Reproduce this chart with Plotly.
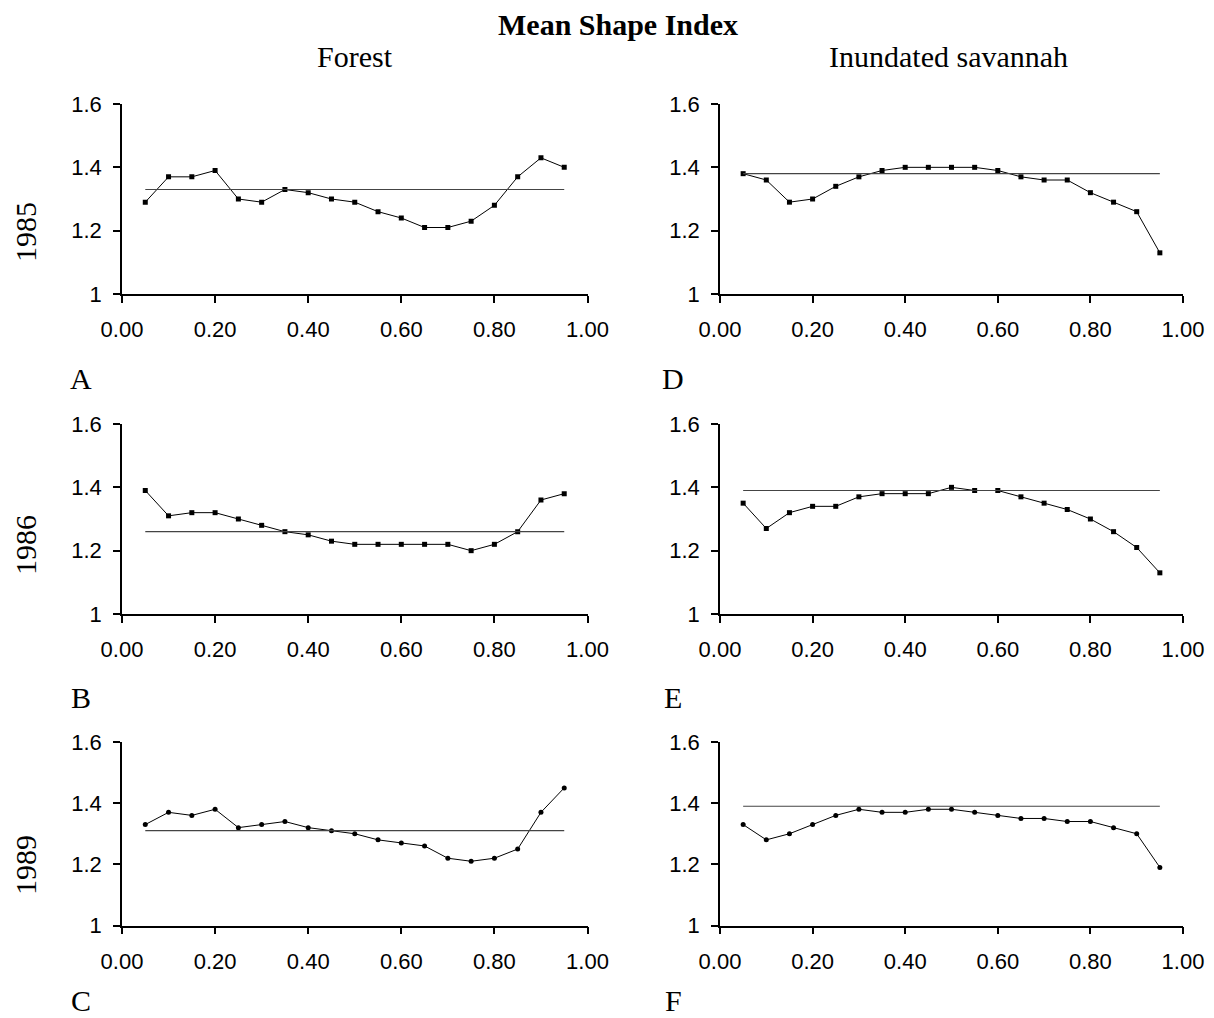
import plotly.graph_objects as go

x_vals = [0.05, 0.10, 0.15, 0.20, 0.25, 0.30, 0.35, 0.40, 0.45, 0.50,
          0.55, 0.60, 0.65, 0.70, 0.75, 0.80, 0.85, 0.90, 0.95]

forest_1985 = [1.29, 1.37, 1.37, 1.39, 1.30, 1.29, 1.33, 1.32, 1.30, 1.29,
               1.26, 1.24, 1.21, 1.21, 1.23, 1.28, 1.37, 1.43, 1.40]
forest_1986 = [1.39, 1.31, 1.32, 1.32, 1.30, 1.28, 1.26, 1.25, 1.23, 1.22,
               1.22, 1.22, 1.22, 1.22, 1.20, 1.22, 1.26, 1.36, 1.38]
forest_1989 = [1.33, 1.37, 1.36, 1.38, 1.32, 1.33, 1.34, 1.32, 1.31, 1.30,
               1.28, 1.27, 1.26, 1.22, 1.21, 1.22, 1.25, 1.37, 1.45]
sav_1985 = [1.38, 1.36, 1.29, 1.30, 1.34, 1.37, 1.39, 1.40, 1.40, 1.40,
            1.40, 1.39, 1.37, 1.36, 1.36, 1.32, 1.29, 1.26, 1.13]
sav_1986 = [1.35, 1.27, 1.32, 1.34, 1.34, 1.37, 1.38, 1.38, 1.38, 1.40,
            1.39, 1.39, 1.37, 1.35, 1.33, 1.30, 1.26, 1.21, 1.13]
sav_1989 = [1.33, 1.28, 1.30, 1.33, 1.36, 1.38, 1.37, 1.37, 1.38, 1.38,
            1.37, 1.36, 1.35, 1.35, 1.34, 1.34, 1.32, 1.30, 1.19]

mean_forest = [1.33, 1.26, 1.31]
mean_sav = [1.38, 1.39, 1.39]

years = ["1985", "1986", "1989"]
columns = ["Forest", "Inundated savannah"]
letters = [["A", "D"], ["B", "E"], ["C", "F"]]

x_ticks = [0.0, 0.2, 0.4, 0.6, 0.8, 1.0]
y_ticks = [1.0, 1.2, 1.4, 1.6]

W, H = 1214, 1018
col_px = [(122, 587.5), (720, 1183)]
row_px = [(104, 294), (424, 614), (742, 925.5)]
letter_px_x = [81, 673]
letter_px_y = [378, 697, None]
year_px_y = [232, 545, 865]
header_px_x = [355, 948]

SERIF = "Liberation Serif, Times New Roman, serif"
SANS = "Liberation Sans, Arial, sans-serif"

data = [[forest_1985, sav_1985], [forest_1986, sav_1986], [forest_1989, sav_1989]]
means = [[mean_forest[i], mean_sav[i]] for i in range(3)]
symbols = ["square", "square", "circle"]

fig = go.Figure()
layout = {}
annotations = []
k = 0
for r in range(3):
    for c in range(2):
        k += 1
        xa = "x" if k == 1 else f"x{k}"
        ya = "y" if k == 1 else f"y{k}"
        fig.add_trace(go.Scatter(
            x=x_vals, y=data[r][c], xaxis=xa, yaxis=ya, mode="lines+markers",
            line=dict(color="black", width=1),
            marker=dict(symbol=symbols[r], size=5, color="black"),
            showlegend=False, hoverinfo="x+y"))
        fig.add_trace(go.Scatter(
            x=[x_vals[0], x_vals[-1]], y=[means[r][c]] * 2, xaxis=xa, yaxis=ya,
            mode="lines", line=dict(color="#444", width=1.2),
            showlegend=False, hoverinfo="y"))
        x0, x1 = col_px[c]
        y0, y1 = row_px[r]
        xkey = "xaxis" if k == 1 else f"xaxis{k}"
        ykey = "yaxis" if k == 1 else f"yaxis{k}"
        layout[xkey] = dict(
            domain=[x0 / W, x1 / W], anchor=ya, range=[0, 1], automargin=False,
            tickvals=x_ticks, tickformat=".2f", ticks="outside", ticklen=7,
            tickwidth=1.5, tickcolor="black", showline=True, linecolor="black",
            linewidth=1.5, showgrid=False, zeroline=False,
            ticklabelstandoff=8,
            tickfont=dict(family=SANS, size=22, color="black"))
        layout[ykey] = dict(
            domain=[1 - y1 / H, 1 - y0 / H], anchor=xa, range=[1, 1.6],
            automargin=False,
            tickvals=y_ticks, ticks="outside", ticklen=7, tickwidth=1.5,
            tickcolor="black", showline=True, linecolor="black", linewidth=1.5,
            showgrid=False, zeroline=False, ticklabelstandoff=7,
            tickfont=dict(family=SANS, size=22, color="black"))
        if letter_px_y[r] is None:
            ypos, yanch = 0.0, "bottom"
        else:
            ypos, yanch = 1 - letter_px_y[r] / H, "middle"
        annotations.append(dict(
            text=letters[r][c], x=letter_px_x[c] / W, y=ypos,
            xref="paper", yref="paper", showarrow=False, xanchor="center",
            yanchor=yanch, borderpad=0,
            font=dict(family=SERIF, size=30, color="black")))

for r in range(3):
    annotations.append(dict(
        text=years[r], x=25 / W, y=1 - year_px_y[r] / H, xref="paper", yref="paper",
        showarrow=False, textangle=-90, xanchor="center", yanchor="middle",
        font=dict(family=SERIF, size=30, color="black")))
for c in range(2):
    annotations.append(dict(
        text=columns[c], x=header_px_x[c] / W, y=1 - 57 / H, xref="paper",
        yref="paper", showarrow=False, xanchor="center", yanchor="middle",
        font=dict(family=SERIF, size=30, color="black")))
annotations.append(dict(
    text="<b>Mean Shape Index</b>", x=618 / W, y=1 - 24 / H, xref="paper",
    yref="paper", showarrow=False, xanchor="center", yanchor="middle",
    font=dict(family=SERIF, size=30, color="black")))

fig.update_layout(
    width=W, height=H, margin=dict(l=0, r=0, t=0, b=0, pad=0, autoexpand=False),
    paper_bgcolor="white", plot_bgcolor="white",
    annotations=annotations, **layout)

fig.write_html("out.html")
